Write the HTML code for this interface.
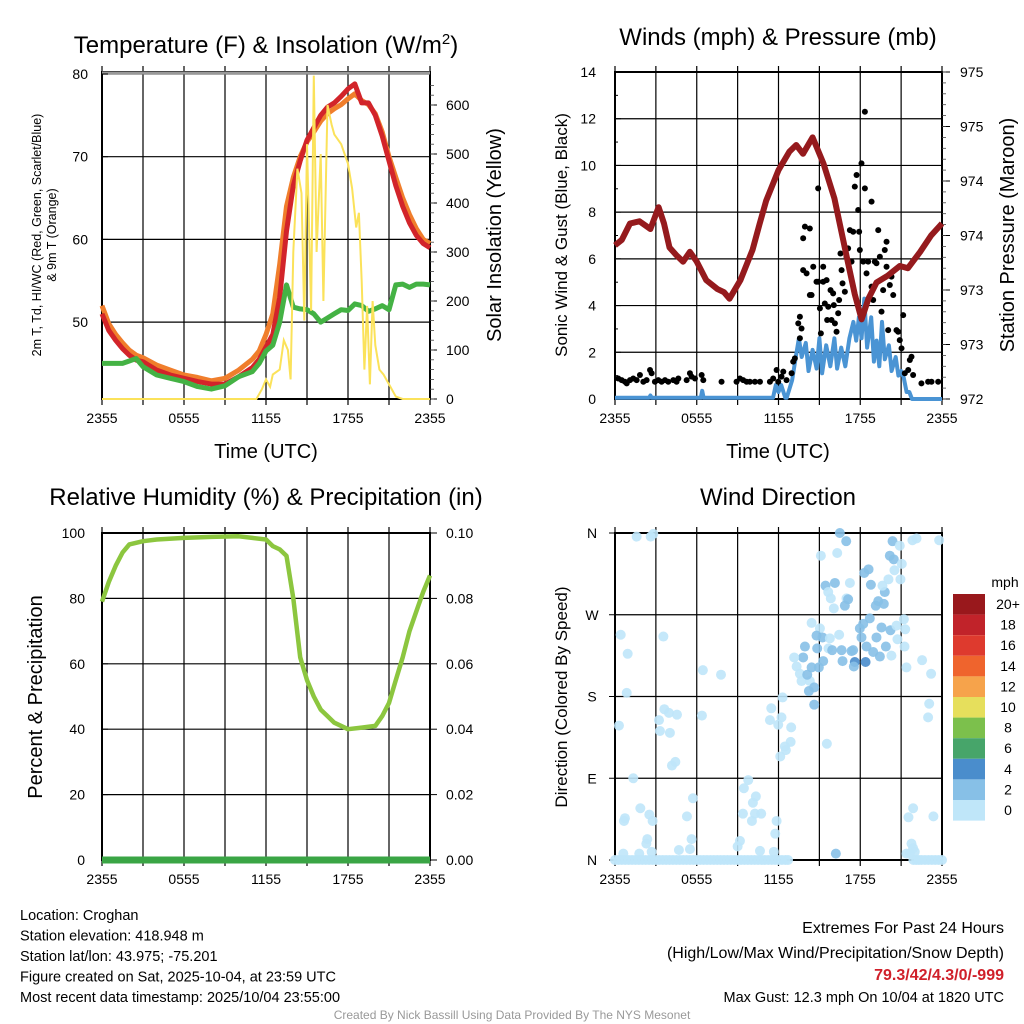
<!DOCTYPE html>
<html><head><meta charset="utf-8">
<style>
html,body{margin:0;padding:0;background:#fff;}
svg{display:block;font-family:"Liberation Sans",sans-serif;}
</style></head>
<body>
<svg id="c" width="1024" height="1024" viewBox="0 0 1024 1024"></svg>
<script>
// ---------- DATA ----------
const xTickLabels = ["2355","0555","1155","1755","2355"];
const tempTickLabels = [50,60,70,80];
const solarTickLabels = [0,100,200,300,400,500,600];
const windTickLabels = [0,2,4,6,8,10,12,14];
const presTickValues = [972,972.5,973,973.5,974,974.5,975];
const presTickLabels = ["972","973","973","974","974","975","975"];
const rhTickLabels = [0,20,40,60,80,100];
const precipTickLabels = ["0.00","0.02","0.04","0.06","0.08","0.10"];
const dirTickLabels = ["N","E","S","W","N"];
const speedLegendLabels = ["20+","18","16","14","12","10","8","6","4","2","0"];

const tempHours = [0,0.5,1,1.5,2,2.5,3,4,5,6,7,8,9,10,11,11.5,12,12.5,13,13.5,14,14.5,15,15.5,16,16.5,17,17.5,18,18.5,19,19.5,20,20.5,21,21.5,22,22.5,23,23.5,24];
const tempRed    = [51,49,47.8,46.8,46,45.4,45.2,44.2,43.6,43.2,42.8,42.5,42.5,43.4,44.5,45.5,47,48.5,53,61,66.5,69.5,72,73.5,75,76,76.5,77.3,78.2,78.8,76.5,76.5,75,72.5,69.5,66.5,64,62,60.5,59.5,59];
const tempOrange = [52,49.8,48.5,47.5,46.6,46,45.7,44.8,44.2,43.6,43.3,42.9,43.2,44.2,45.5,46.5,48.5,51,57,64,67.5,70,71.8,73,74.3,75.2,75.8,76.3,77,77.6,76.8,76.3,75.2,73,70,67.5,65,63,61.3,60,59.5];
const tempGreen  = [45,45,45,45,45.3,45.6,44.6,43.6,43.2,42.8,42.2,41.9,42.3,43.4,44,45,46.5,47.2,50,54.5,51.8,51.6,51.5,51,50,50.5,51,51.5,51.4,52.2,52,51.3,51.6,52,51.5,54.5,54.6,54.2,54.6,54.6,54.5];
const solarHours = [0,11,11.3,11.7,12,12.3,12.5,13,13.3,13.6,13.8,14,14.3,14.6,14.8,15,15.3,15.5,15.7,16,16.2,16.5,16.8,17,17.5,18,18.3,18.6,18.8,19,19.2,19.4,19.6,19.8,20,20.3,20.6,21,21.5,22,24];
const solarVals  = [0,0,0,20,40,25,50,60,120,100,40,300,470,420,160,520,180,660,300,500,200,600,560,540,520,480,430,350,380,240,60,190,30,200,110,60,50,30,5,0,0];
const presHours = [0,0.5,1.1,1.8,2.6,3.2,3.6,4.0,4.5,5.0,5.5,6.0,6.7,7.5,8.0,8.4,9.2,10.1,10.6,11.1,12.0,12.8,13.3,13.8,14.5,15.3,16.1,17.0,17.6,18.1,18.6,19.2,20.0,20.9,21.5,22.4,23.2,24];
const presMb = [973.41,973.46,973.61,973.63,973.56,973.76,973.61,973.39,973.32,973.26,973.35,973.26,973.09,973.01,972.98,972.92,973.09,973.37,973.6,973.82,974.1,974.27,974.33,974.25,974.4,974.16,973.84,973.31,972.96,972.73,972.92,973.07,973.13,973.22,973.2,973.35,973.5,973.61];
const windHours = [0,2.5,2.6,2.7,6.3,6.4,6.5,11.6,11.8,12.0,12.2,12.5,12.6,13,13.3,13.5,13.7,14,14.2,14.5,14.8,15,15.2,15.5,15.8,16.1,16.3,16.6,16.9,17.2,17.5,17.7,17.9,18.1,18.3,18.5,18.8,19.0,19.2,19.4,19.6,19.8,20.1,20.3,20.6,20.8,21.0,21.2,21.4,21.6,21.8,24];
const windVals  = [0.05,0.05,0.15,0.05,0.05,0.35,0.05,0.05,0.6,0.3,0.6,0.05,0.05,0.8,1.9,2.6,1.8,2.4,1.2,2.1,1.3,2.6,1.1,2.3,1.4,2.6,1.3,2.2,1.4,2.6,3.3,2.5,3.5,2.6,4.3,2.2,3.5,1.6,2.5,1.4,3.3,1.7,2.3,1.2,1.8,1.0,1.2,0.9,0.3,0.3,0.0,0.0];
const gustHours = [0.24,0.49,0.73,0.86,1.1,1.34,1.59,1.83,2.08,2.32,2.57,2.69,2.93,3.18,3.42,3.67,3.91,4.28,4.52,4.65,5.26,5.5,5.62,5.87,6.36,6.48,7.82,8.92,9.17,9.41,9.66,9.9,10.27,10.64,11.37,11.61,11.86,11.98,12.22,12.35,12.59,12.96,13.08,13.2,13.45,13.57,13.57,13.69,13.81,13.81,13.94,14.06,14.3,14.3,14.43,14.55,14.79,14.91,14.91,15.04,15.11,15.28,15.28,15.4,15.53,15.57,15.65,15.82,15.89,16.01,16.06,16.14,16.26,16.38,16.45,16.55,16.63,16.7,16.87,16.99,17.11,17.24,17.36,17.48,17.6,17.73,17.85,17.92,17.97,18.09,18.22,18.34,18.34,18.46,18.58,18.83,18.83,18.95,19.07,19.19,19.32,19.44,19.56,19.68,19.8,19.93,19.93,20.05,20.17,20.29,20.42,20.66,20.78,20.9,21.03,21.15,21.27,21.52,21.64,21.76,21.88,22.49,22.98,23.23,23.72];
const gustVals = [0.88,0.81,0.74,0.67,0.81,0.88,0.81,1.03,0.74,0.81,1.24,1.1,0.74,0.81,0.74,0.81,0.74,0.81,0.74,0.88,0.81,1.1,0.96,0.88,1.03,0.81,0.74,0.74,0.88,0.81,0.74,0.74,0.74,0.74,0.74,0.88,1.24,0.74,0.96,1.17,0.81,1.1,1.6,1.74,3.24,3.52,2.6,3.02,5.52,6.88,7.38,5.38,7.3,4.45,4.45,5.66,5.02,9.02,5.02,3.88,2.81,5.02,5.66,4.09,5.09,3.38,3.95,4.66,3.38,4.52,4.02,3.24,2.88,3.67,4.24,6.23,5.52,4.95,4.59,6.09,6.45,7.23,5.88,7.16,9.09,9.59,8.09,7.16,6.38,10.09,5.88,12.3,9.02,5.38,5.88,8.45,4.81,4.24,5.88,5.81,7.23,6.09,3.74,4.66,6.38,6.73,5.66,2.95,4.88,5.24,4.45,2.95,2.88,2.52,2.17,3.59,1.1,1.24,1.67,1.81,1.03,0.67,0.74,0.74,0.74];
const rhHours = [0,0.5,1,1.5,2,3,4,6,8,10,11,12,12.5,13,13.5,14,14.5,15,15.5,16,16.5,17,17.5,18,19,20,20.5,21,21.5,22,22.5,23,23.5,24];
const rhVals  = [79,85,90,94,96.5,97.5,98,98.5,98.8,99,98.5,98,96,95,93,80,62,55,50,46,44,42,41,40,40.5,41,44,48,55,62,70,76,82,87];
const precipHours = [0,24];
const precipVals = [0,0];
const dirHours = [1.59,2.62,2.81,15.11,16.31,16.5,16.97,17.24,16.14,15.45,15.65,15.84,16.06,16.99,17.11,16.87,18.29,18.61,18.78,19.14,19.32,19.73,19.8,19.63,20.07,20.51,20.17,20.46,20.37,20.9,21.05,20.95,21.83,22.13,23.79,0.42,3.55,0.93,0.86,6.45,7.78,14.43,15.04,14.79,15.23,15.77,16.45,13.94,14.84,15.67,15.94,16.63,17.36,17.48,13.81,13.15,13.33,13.57,13.69,14.3,14.11,14.43,14.96,15.28,14.62,14.23,14.62,16.7,17.6,18.39,17.53,17.97,18.22,18.7,18.09,18.46,19.19,19.56,19.88,20.22,20.66,21.2,21.3,19.44,18.95,20.29,20.73,21.25,21.39,22.54,23.2,0.29,3.62,3.96,4.55,3.23,3.3,4.03,6.38,4.18,4.43,11.47,11.37,12.22,12.3,11.98,12.93,12.89,12.47,12.54,12.13,15.55,23.06,22.98,1.34,9.78,9.46,10.34,10.12,5.72,1.86,2.52,2.76,0.73,0.66,5.28,9.39,10.27,10.73,10.05,11.86,11.76,21.88,21.54,23.37,2.37,2.3,5.62,9.17,9.0,5.5,2.69,4.69,10.64,11.66,0.61,1.78,16.21,21.76,21.88,21.64,21.39,22.0,
0,0.25,0.5,0.75,1,1.25,1.5,1.75,2,2.25,2.5,2.75,3,3.25,3.5,3.75,4,4.25,4.5,4.75,5,5.25,5.5,5.75,6,6.25,6.5,6.75,7,7.25,7.5,7.75,8,8.25,8.5,8.75,9,9.25,9.5,9.75,10,10.25,10.5,10.75,11,11.25,11.5,11.75,12,12.25,12.5,12.7,21.9,22.1,22.3,22.5,22.75,23,23.25,23.5,23.75,24];
const dirDeg = [356,356,359,335,338,360,351,305,305,302,295,288,277,288,287,280,316,320,303,280,285,282,295,302,309,319,335,331,351,346,326,309,352,354,352,248,246,227,184,209,204,261,255,247,245,244,248,235,233,233,231,231,230,231,223,223,213,205,197,197,204,212,212,219,190,186,171,219,218,218,213,255,260,266,245,235,245,256,235,253,258,265,254,224,229,225,243,235,212,220,205,148,166,162,160,154,142,140,159,104,108,167,154,157,179,149,146,130,125,121,114,128,172,157,90,88,79,70,63,68,57,50,43,46,43,48,51,51,51,43,43,29,57,47,48,23,18,23,21,15,12,9,11,10,9,7,7,7,18,13,7,7,9,
0,0,0,0,0,0,0,0,0,0,0,0,0,0,0,0,0,0,0,0,0,0,0,0,0,0,0,0,0,0,0,0,0,0,0,0,0,0,0,0,0,0,0,0,0,0,0,0,0,0,0,0,0,0,0,0,0,0,0,0,0,0];
const dirSpeed = [1,1,1,1,1,3,3,1,3,3,1,1,1,1,3,3,3,3,3,3,3,3,3,1,1,1,3,3,3,1,1,1,1,1,1,1,1,1,1,1,1,1,1,3,3,1,1,3,3,1,3,3,3,3,3,1,1,1,1,1,3,3,3,3,3,3,3,3,5,5,3,3,3,3,3,3,3,3,3,3,1,1,1,3,3,1,1,1,1,1,1,1,1,1,1,1,1,1,1,1,1,1,1,1,1,1,1,1,1,1,1,1,1,1,1,1,1,1,1,1,1,1,1,1,1,1,1,1,1,1,1,1,1,1,1,1,1,1,1,1,1,1,1,1,1,1,1,3,1,1,1,1,1,
0,0,0,0,0,0,0,0,0,0,0,0,0,0,0,0,0,0,0,0,0,0,0,0,0,0,0,0,0,0,0,0,0,0,0,0,0,0,0,0,0,0,0,0,0,0,0,0,0,0,0,0,0,0,0,0,0,0,0,0,0,0];
const legendColors = ["#99181c","#c1232a","#de3a2e","#ef642d","#f6a34b","#e6df5c","#7cc04c","#47a56a","#4a8dcc","#87c0e7","#bfe6f9"];

// ---------- DRAW ----------
const NS="http://www.w3.org/2000/svg";
const svg=document.getElementById('c');
function el(tag,attrs,parent,text){const e=document.createElementNS(NS,tag);for(const k in attrs)e.setAttribute(k,attrs[k]);if(text!==undefined)e.textContent=text;(parent||svg).appendChild(e);return e;}
function lin(d0,d1,r0,r1){return v=>r0+(v-d0)*(r1-r0)/(d1-d0);}
function pathD(xs,ys,fx,fy){return xs.map((h,i)=>(i?'L':'M')+fx(h).toFixed(1)+','+fy(ys[i]).toFixed(1)).join('');}

function frame(name,x0,x1,y0,y1,hLines){
  const g=el('g',{});
  
  
  for(let k=1;k<8;k++){const x=x0+(x1-x0)*k/8;el('line',{x1:x,x2:x,y1:y0,y2:y1,stroke:'#000','stroke-width':1.2},g);}
  hLines.forEach(y=>el('line',{x1:x0,x2:x1,y1:y,y2:y,stroke:'#000','stroke-width':1.2},g));
  el('rect',{x:x0,y:y0,width:x1-x0,height:y1-y0,fill:'none',stroke:'#000','stroke-width':2},g);
  for(let k=0;k<=8;k++){const x=x0+(x1-x0)*k/8;el('line',{x1:x,x2:x,y1:y1,y2:y1+6,stroke:'#000','stroke-width':1.2},g);el('line',{x1:x,x2:x,y1:y0,y2:y0-6,stroke:'#000','stroke-width':1.2},g);}
  xTickLabels.forEach((t,i)=>{const tx=el('text',{x:x0+(x1-x0)*i/4,y:y1+24,'font-size':14,'text-anchor':'middle'},svg,t);});
  return g;
}
function txt(name,x,y,s,size,anchor,rot,extra){const a={x:x,y:y,'font-size':size,'text-anchor':anchor||'middle'};if(rot)a.transform=`rotate(-90 ${x} ${y})`;Object.assign(a,extra||{});const t=el('text',a,svg,s);return t;}

// Panel 1
{
 const X0=102,X1=430,Y0=72,Y1=399;
 const fx=lin(0,24,X0,X1), fy=lin(80,40.7,74,399), fs=lin(0,600,399,105);
 frame('temperature-panel',X0,X1,Y0,Y1,tempTickLabels.map(fy));
 el('line',{x1:X0,x2:X1,y1:73,y2:73,stroke:'#999','stroke-width':3});
 tempTickLabels.forEach(v=>{txt('temp-tick-label',88,fy(v)+5,String(v),14,'end');el('line',{x1:X0,x2:X0+6,y1:fy(v),y2:fy(v),stroke:'#000'});});
 solarTickLabels.forEach(v=>{txt('solar-tick-label',446,fs(v)+5,String(v),14,'start');el('line',{x1:X1,x2:X1+7,y1:fs(v),y2:fs(v),stroke:'#000'});});
 for(let v=0;v<=650;v+=20)el('line',{x1:X1,x2:X1+4,y1:fs(v),y2:fs(v),stroke:'#444','stroke-width':0.8});
 const ps=[[tempOrange,'#f07e2c','temp-9m-orange-line'],[tempRed,'#d2242a','temp-2m-red-line'],[tempGreen,'#44b244','dewpoint-green-line']];
 ps.forEach(([arr,c,n])=>{const p=el('path',{d:pathD(tempHours,arr,fx,fy),fill:'none',stroke:c,'stroke-width':5,'stroke-linejoin':'round'});});
 const sp=el('path',{d:pathD(solarHours,solarVals,fx,fs),fill:'none',stroke:'#fbe25a','stroke-width':2});
 
 
 txt('temperature-title',266,53,'',24);
 const t=svg.lastChild;t.innerHTML='Temperature (F) &amp; Insolation (W/m<tspan dy="-9" font-size="15">2</tspan><tspan dy="9">)</tspan>';
 txt('temp-y-title',41,235,'2m T, Td, HI/WC (Red, Green, Scarlet/Blue)',12.5,'middle',true);
 txt('temp-y-title-line2',56,235,'& 9m T (Orange)',12.5,'middle',true);
 txt('solar-y-title',501,235,'Solar Insolation (Yellow)',20,'middle',true);
 txt('x-axis-title',266,458,'Time (UTC)',20);
}
// Panel 2
{
 const X0=615,X1=942,Y0=72,Y1=399;
 const fx=lin(0,24,X0,X1), fy=lin(0,14,399,72), fp=lin(972,975,399,72);
 frame('winds-panel',X0,X1,Y0,Y1,[2,4,6,8,10,12].map(fy));
 windTickLabels.forEach(v=>{txt('wind-tick-label',596,fy(v)+5,String(v),14,'end');});
 for(let v=0;v<=14;v+=1)el('line',{x1:X0,x2:X0+(v%2?3:6),y1:fy(v),y2:fy(v),stroke:'#000'});
 presTickValues.forEach((v,i)=>{txt('pressure-tick-label',960,fp(v)+5,presTickLabels[i],14,'start');el('line',{x1:X1,x2:X1+8,y1:fp(v),y2:fp(v),stroke:'#000'});});
 for(let v=972;v<=975.001;v+=0.1)el('line',{x1:X1,x2:X1+4,y1:fp(v),y2:fp(v),stroke:'#444','stroke-width':0.8});
 const w=el('path',{d:pathD(windHours,windVals,fx,fy),fill:'none',stroke:'#4a94d4','stroke-width':4,'stroke-linejoin':'round'});
 
 
 gustHours.forEach((h,i)=>{const c=el('circle',{cx:fx(h),cy:fy(gustVals[i]),r:3,fill:'#000'});
  
  });
 const p=el('path',{d:pathD(presHours,presMb,fx,fp),fill:'none',stroke:'#951a1d','stroke-width':6,'stroke-linejoin':'round'});
 
 
 txt('winds-title',778,45,'Winds (mph) & Pressure (mb)',24);
 txt('wind-y-title',567,235,'Sonic Wind & Gust (Blue, Black)',17,'middle',true);
 txt('pressure-y-title',1014,235,'Station Pressure (Maroon)',20,'middle',true);
 txt('x-axis-title',778,458,'Time (UTC)',20);
}
// Panel 3
{
 const X0=102,X1=430,Y0=533,Y1=860;
 const fx=lin(0,24,X0,X1), fy=lin(0,100,860,533), fq=lin(0,0.1,860,533);
 frame('humidity-panel',X0,X1,Y0,Y1,[20,40,60,80].map(fy));
 rhTickLabels.forEach(v=>{txt('rh-tick-label',85,fy(v)+5,String(v),14,'end');el('line',{x1:X0,x2:X0+6,y1:fy(v),y2:fy(v),stroke:'#000'});});
 precipTickLabels.forEach((v,i)=>{txt('precip-tick-label',446,fq(i*0.02)+5,v,14,'start');el('line',{x1:X1,x2:X1+7,y1:fq(i*0.02),y2:fq(i*0.02),stroke:'#000'});});
 const q=el('path',{d:pathD(precipHours,precipVals,fx,fq),fill:'none',stroke:'#3aa545','stroke-width':7});
 
 
 const r=el('path',{d:pathD(rhHours,rhVals,fx,fy),fill:'none',stroke:'#8cc63f','stroke-width':4.5,'stroke-linejoin':'round'});
 
 
 txt('humidity-title',266,505,'Relative Humidity (%) & Precipitation (in)',24);
 txt('humidity-y-title',42,697,'Percent & Precipitation',20,'middle',true);
}
// Panel 4
{
 const X0=615,X1=942,Y0=533,Y1=860;
 const fx=lin(0,24,X0,X1), fy=lin(0,360,860,533);
 frame('wind-direction-panel',X0,X1,Y0,Y1,[90,180,270].map(fy));
 dirTickLabels.forEach((t,i)=>{txt('direction-tick-label',592,fy(i*90)+5,t,14,'middle');el('line',{x1:X0,x2:X0-6,y1:fy(i*90),y2:fy(i*90),stroke:'#000'});});
 function spColor(s){const idx=Math.min(10,Math.floor(s/2));return legendColors[10-idx];}
 dirHours.forEach((h,i)=>{const c=el('circle',{cx:fx(h),cy:fy(dirDeg[i]),r:5,fill:spColor(dirSpeed[i]),'fill-opacity':0.9});
  
  });
 txt('wind-direction-title',778,505,'Wind Direction',24);
 txt('direction-y-title',567,697,'Direction (Colored By Speed)',17,'middle',true);
 txt('legend-unit',1005,587,'mph',14,'middle');
 speedLegendLabels.forEach((t,i)=>{const y=594+i*20.6;
  const b=el('rect',{x:953,y:y,width:32,height:20.6,fill:legendColors[i]});
  
  
  txt('legend-label',1008,y+15,t,14,'middle');});
}
// Footer
const foot=["Location: Croghan","Station elevation: 418.948 m","Station lat/lon: 43.975; -75.201","Figure created on Sat, 2025-10-04, at 23:59 UTC","Most recent data timestamp: 2025/10/04 23:55:00"];
foot.forEach((s,i)=>txt('station-info-line',20,920+i*20.5,s,14.5,'start'));
txt('extremes-title',1004,933,'Extremes For Past 24 Hours',16,'end');
txt('extremes-legend',1004,958,'(High/Low/Max Wind/Precipitation/Snow Depth)',16,'end');
txt('extremes-values',1004,980,'79.3/42/4.3/0/-999',16,'end',false,{fill:'#d0202a','font-weight':'bold'});
txt('max-gust',1004,1002,'Max Gust: 12.3 mph On 10/04 at 1820 UTC',14.5,'end');
txt('credit',512,1019,'Created By Nick Bassill Using Data Provided By The NYS Mesonet',12,'middle',false,{fill:'#999'});
</script>
</body></html>
